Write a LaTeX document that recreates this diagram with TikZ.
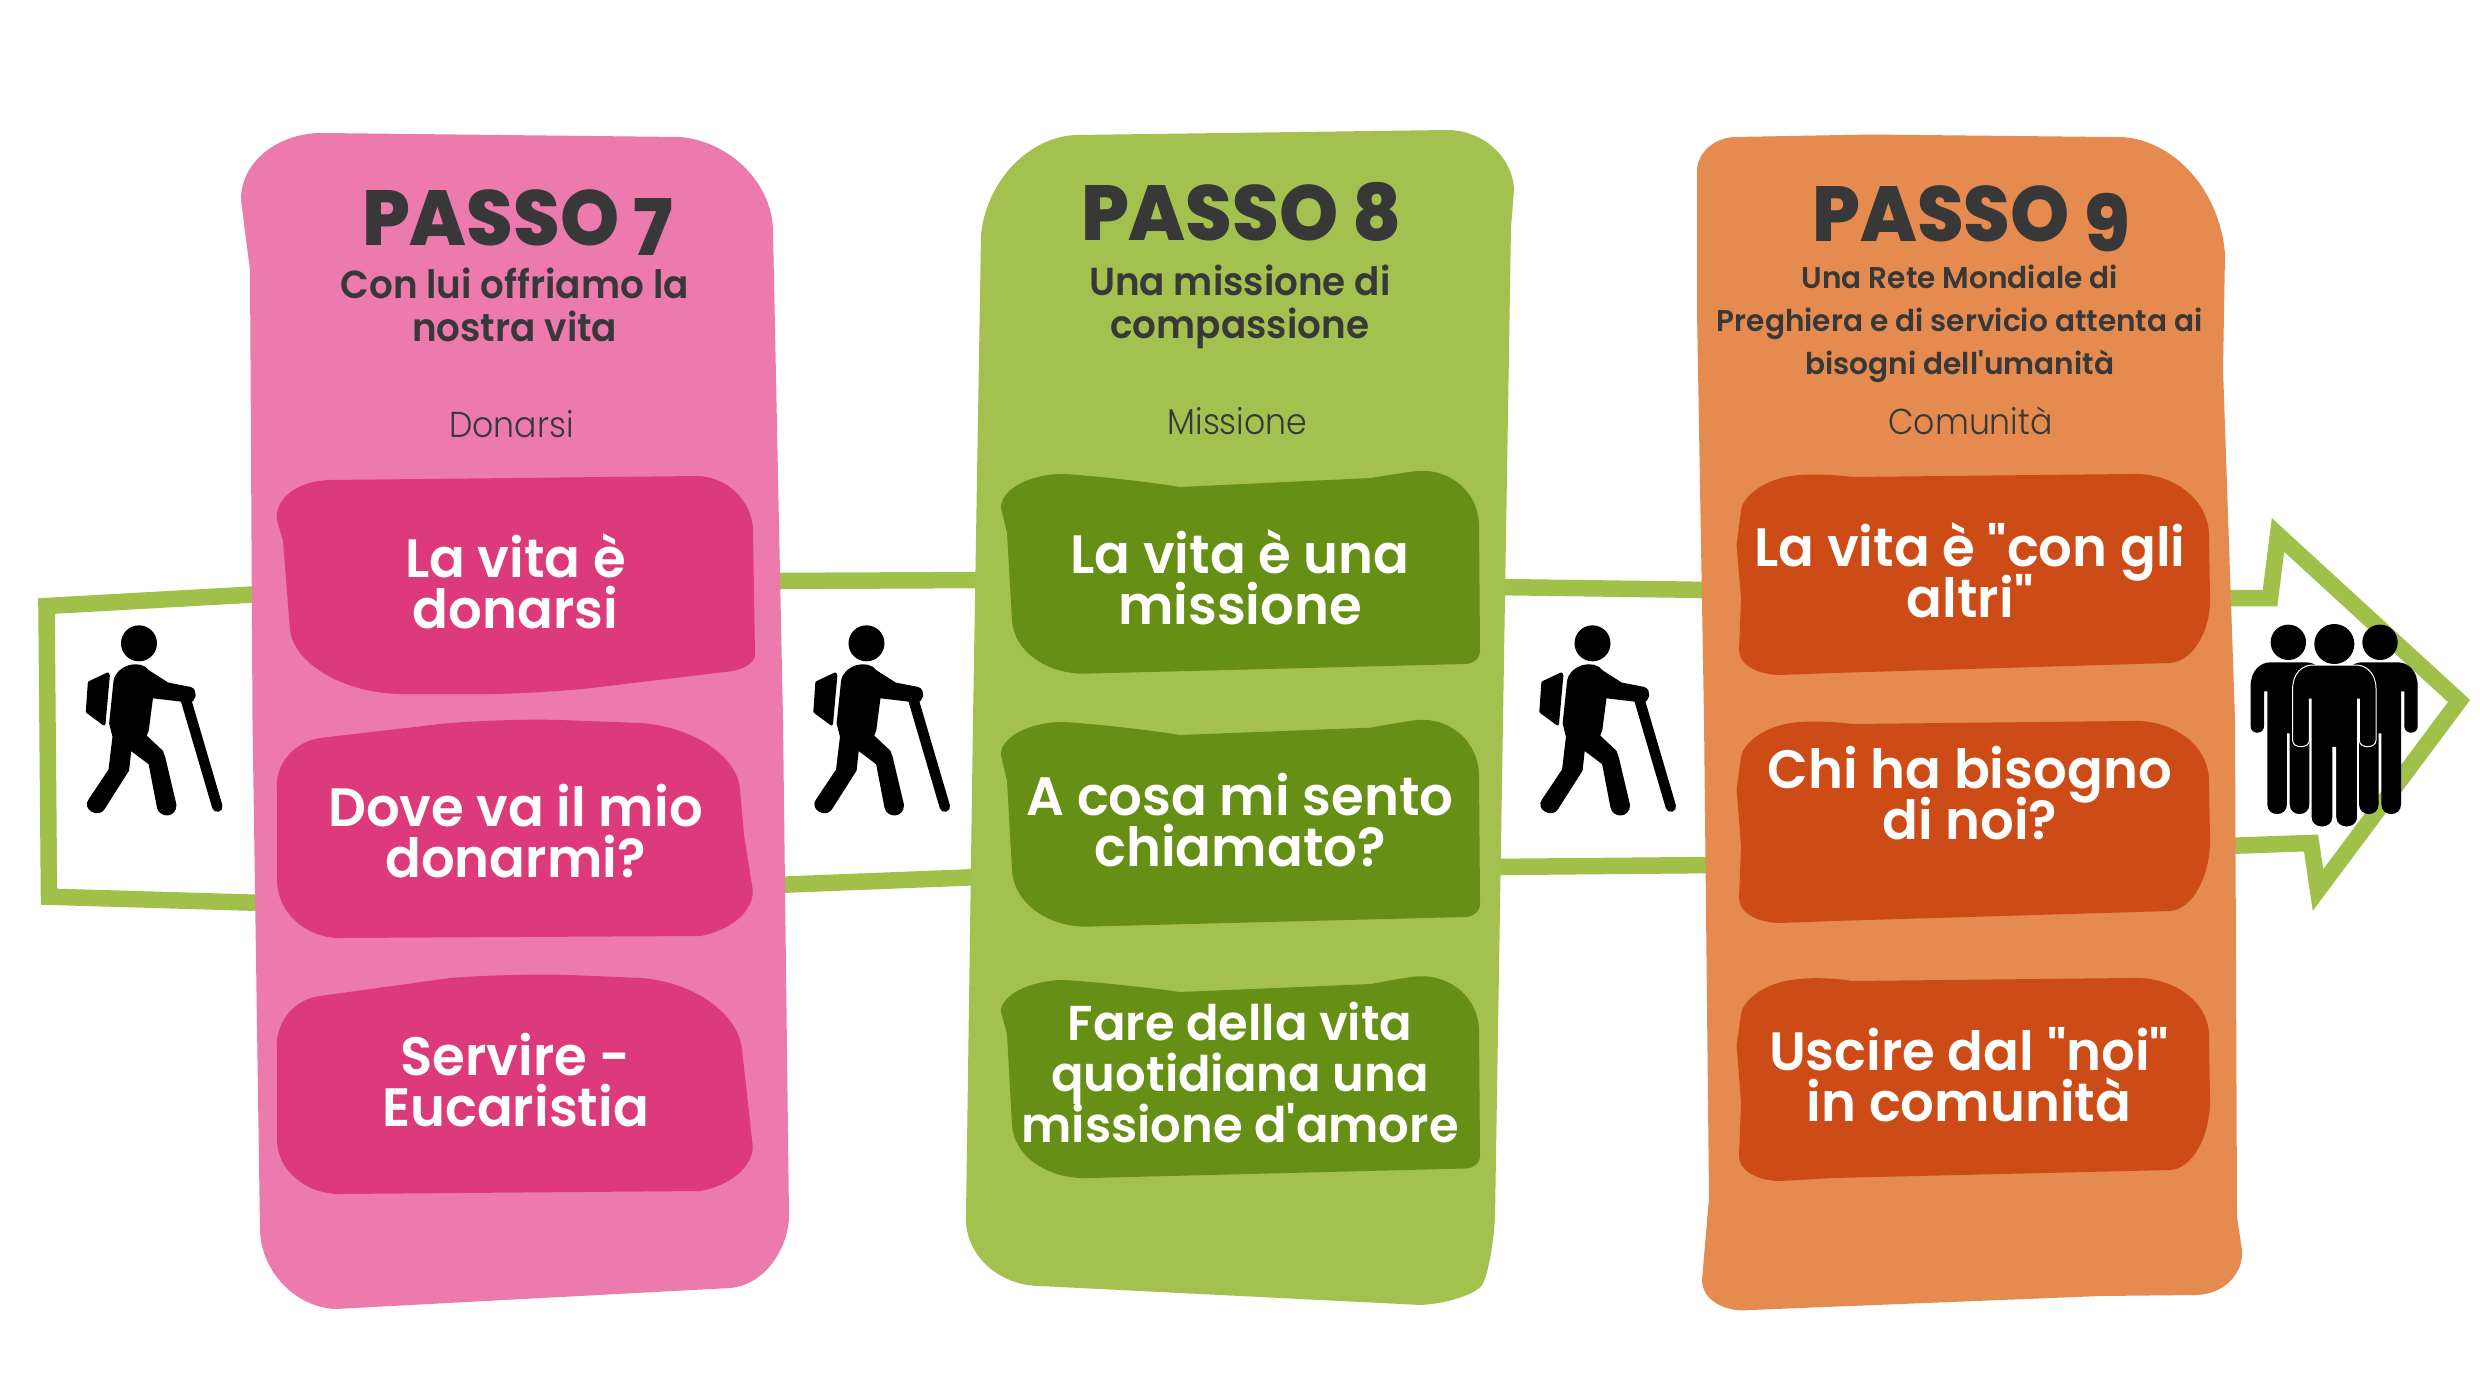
\documentclass[tikz,border=0pt]{standalone}
\usepackage{fontspec}
\usetikzlibrary{calc}
\newfontfamily\titlefont{Poppins ExtraBold}[FakeStretch=0.965]
\newfontfamily\subfont{Poppins SemiBold}[FakeStretch=0.957]
\newfontfamily\subsmallfont{Poppins SemiBold}[FakeStretch=0.986]
\newfontfamily\boxfont{Poppins SemiBold}[FakeStretch=0.98]
\newfontfamily\lightfont{Poppins Light}[FakeStretch=0.92]
\definecolor{pinkpanel}{HTML}{EC7AAD}
\definecolor{pinkbox}{HTML}{DC3A7A}
\definecolor{greenpanel}{HTML}{A4C14F}
\definecolor{greenbox}{HTML}{668F15}
\definecolor{orangepanel}{HTML}{E68B50}
\definecolor{orangebox}{HTML}{CC4B16}
\definecolor{arrowgreen}{HTML}{A0C04A}
\definecolor{darktext}{HTML}{383838}
\newcommand{\tightlines}{\lineskiplimit=-200pt\relax}
\newcommand{\subtextset}{\subfont\fontsize{39}{43}\selectfont\tightlines}
\newcommand{\subsmallset}{\subsmallfont\fontsize{30}{43}\selectfont\tightlines}
\newcommand{\boxset}{\boxfont\fontsize{54}{51}\selectfont\tightlines}
\newcommand{\boxsmallset}{\boxfont\fontsize{49}{51}\selectfont\tightlines}
\tikzset{
  x=1pt,y=-1pt,
  trail/.style={draw=arrowgreen,line width=16.5pt,miter limit=10},
  titletext/.style={font=\titlefont\fontsize{78}{80}\selectfont,text=darktext,inner sep=0,anchor=base},
  subtext/.style={font=\subtextset,text=darktext,align=center,inner sep=0,anchor=base},
  subsmall/.style={font=\subsmallset,text=darktext,align=center,inner sep=0,anchor=base},
  themetext/.style={font=\lightfont\fontsize{36}{38}\selectfont,text=darktext,inner sep=0,anchor=base},
  boxtext/.style={font=\boxset,text=white,align=center,inner sep=0,anchor=base},
  boxtextsmall/.style={boxtext,font=\boxsmallset},
}
% rounded corner: from #1 towards virtual corner #2 and on to #3
\newcommand{\cn}[3]{-- #1 .. controls ($#1!.55!#2$) and ($#3!.55!#2$) .. #3 }
\newcommand{\hiker}[2]{%
\begin{scope}[shift={(#1,#2)},x=0.3333pt,y=-0.3333pt]
 \fill (417,430) circle (54);
 \filldraw[line width=3pt,line join=round] (268,548)--(323,522)--(325,528)--(312,672)--(262,635)--cycle;
 \filldraw[line width=3pt,line join=round] (332,670)--(345,545) .. controls (350,500) and (420,480) .. (445,515)
   --(503,552)--(570,565) .. controls (590,570) and (585,605) .. (565,603)
   --(455,590)--(442,690)--(435,708)--(485,755)--(492,775)--(525,915)
   .. controls (525,950) and (480,950) .. (475,920)
   --(450,790)--(390,745)--(383,810)--(310,925)
   .. controls (295,950) and (250,925) .. (270,900)
   --(330,810)--(342,710)--cycle;
 \draw[line width=10.5pt,line cap=round] (558,600)--(652,920);
\end{scope}}
% axis, top, half width, arm inner, leg half, gap start, arm bottom, total height, options
\newcommand{\persona}[9]{%
\begin{scope}[shift={(#1,#2)}]
 \filldraw[#9] (-#3,24) .. controls (-#3,8) and (-#3+10,0) .. (-#3+20,0) -- (#3-20,0)
   .. controls (#3-10,0) and (#3,8) .. (#3,24)
   -- (#3,#7-7) .. controls (#3,#7+1.5) and (#4,#7+1.5) .. (#4,#7-7)
   -- (#4,#6) -- (#5,#6) -- (#5,#8-10) .. controls (#5,#8+3) and (1.4,#8+3) .. (1.4,#8-10)
   -- (1.4,#7) -- (-1.4,#7) -- (-1.4,#8-10) .. controls (-1.4,#8+3) and (-#5,#8+3) .. (-#5,#8-10)
   -- (-#5,#6) -- (-#4,#6) -- (-#4,#7-7) .. controls (-#4,#7+1.5) and (-#3,#7+1.5) .. (-#3,#7-7) -- cycle;
\end{scope}}
\begin{document}
\begin{tikzpicture}
\useasboundingbox (0,0) rectangle (2480,1373);
\fill[white] (0,0) rectangle (2480,1373);
% trail
\draw[trail] (262,594)--(46.5,606)--(49,896.7)--(265,903);
\draw[trail] (770,581)--(985,580);
\draw[trail] (775,885)--(980,877);
\draw[trail] (1495,587)--(1712,590);
\draw[trail] (1490,867)--(1715,865);
\draw[trail] (2220,598)--(2270,598)--(2278,535)--(2459,701)--(2318,890)--(2311,843)--(2225,846);
% panels
\fill[pinkpanel] (323,133) -- (680,137) \cn{(680,137)}{(772,145)}{(773,231)} -- (783,720) -- (789,1217)
  \cn{(789,1217)}{(786,1284)}{(730,1288)} -- (335,1309) \cn{(335,1309)}{(262,1305)}{(260,1230)}
  -- (252.5,720) -- (250,270) -- (241,200) \cn{(241,200)}{(240,132)}{(323,133)} -- cycle;
\fill[greenpanel] (1076,135) -- (1447,130) \cn{(1447,130)}{(1512,130)}{(1514,190)} -- (1511,227) -- (1503,720) -- (1495,1217)
  \cn{(1495,1217)}{(1492,1270)}{(1482,1285)} \cn{(1482,1285)}{(1470,1302)}{(1421,1305)} -- (1040,1286)
  \cn{(1040,1286)}{(962,1285)}{(966,1215)} -- (973,720) -- (981,235) \cn{(981,235)}{(990,138)}{(1076,135)} -- cycle;
\fill[orangepanel] (1697,170) \cn{(1697,170)}{(1698,138)}{(1735,137)} -- (1871,134.5) -- (2110,137)
  \cn{(2110,137)}{(2215,130)}{(2225,254)} -- (2223,369) -- (2235,720) -- (2237,1217) -- (2242,1250)
  \cn{(2242,1250)}{(2245,1295)}{(2195,1295)} -- (2101,1296) -- (1750,1310) \cn{(1750,1310)}{(1702,1315)}{(1702,1280)}
  -- (1709,1198) -- (1704,720) -- (1697,311) -- cycle;
% pink boxes
\fill[pinkbox] (330,480) -- (698,476) \cn{(698,476)}{(752,478)}{(753,530)} -- (755,655) \cn{(755,655)}{(755,667)}{(733,671)}
  -- (600,687) \cn{(600,687)}{(526,696)}{(460,694)} -- (400,694) \cn{(400,694)}{(298,692)}{(290,630)} -- (283,541) -- (277,520)
  \cn{(277,520)}{(272,481)}{(330,480)} -- cycle;
\fill[pinkbox] (277,790) \cn{(277,790)}{(272,745)}{(320,738)} -- (440,724) \cn{(440,724)}{(500,718)}{(560,720)} -- (641,723)
  \cn{(641,723)}{(737,730)}{(740,790)} -- (744,835) -- (752,885) \cn{(752,885)}{(762,925)}{(700,936)} -- (340,938)
  \cn{(340,938)}{(277,938)}{(277,880)} -- cycle;
\fill[pinkbox] (277,1050) \cn{(277,1050)}{(272,1002)}{(320,996)} -- (450,978) \cn{(450,978)}{(510,973)}{(570,975)} -- (641,978)
  \cn{(641,978)}{(737,985)}{(742,1050)} -- (748,1103) -- (752,1140) \cn{(752,1140)}{(762,1180)}{(700,1191)} -- (340,1194)
  \cn{(340,1194)}{(277,1194)}{(277,1140)} -- cycle;
% green boxes
\fill[greenbox] (1007,533) -- (1001,508) \cn{(1001,508)}{(1000,476)}{(1060,474)} \cn{(1065,474)}{(1125,478)}{(1180,487)} -- (1371,478)
  \cn{(1371,478)}{(1400,473)}{(1417,471)} \cn{(1417,471)}{(1478,466)}{(1479,525)} -- (1480,650)
  \cn{(1480,650)}{(1481,664)}{(1465,664)} -- (1090,673.5) \cn{(1090,673.5)}{(1015,678)}{(1012,620)} -- cycle;
\fill[greenbox] (1007,781) -- (1001,755) \cn{(1001,755)}{(1000,724)}{(1060,722)} \cn{(1065,722)}{(1125,726)}{(1180,735)} -- (1371,727.6)
  \cn{(1371,727.6)}{(1400,722)}{(1417,720)} \cn{(1417,720)}{(1478,715)}{(1479,775)} -- (1480,903)
  \cn{(1480,903)}{(1481,917)}{(1465,917)} -- (1090,926.5) \cn{(1090,926.5)}{(1015,930)}{(1012,870)} -- cycle;
\fill[greenbox] (1007,1034) -- (1001,1012) \cn{(1001,1012)}{(1000,983)}{(1060,980)} \cn{(1065,980)}{(1125,984)}{(1180,992)} -- (1371,984)
  \cn{(1371,984)}{(1400,978)}{(1417,976.4)} \cn{(1417,976.4)}{(1478,972)}{(1479,1030)} -- (1480,1155)
  \cn{(1480,1155)}{(1481,1168.5)}{(1465,1168.5)} -- (1090,1178) \cn{(1090,1178)}{(1015,1182)}{(1012,1125)} -- cycle;
% orange boxes
\fill[orangebox] (1736.6,545) -- (1741,510) \cn{(1741,510)}{(1747,478)}{(1800,475)} \cn{(1800,475)}{(1825,473)}{(1852,477)} -- (2130,474)
  \cn{(2130,474)}{(2208,470)}{(2209,535)} -- (2210,600) \cn{(2210,600)}{(2210,660)}{(2170,663)} -- (1833,673) -- (1780,675)
  \cn{(1780,675)}{(1738,675)}{(1739,650)} -- (1741,598) -- cycle;
\fill[orangebox] (1736.6,789) -- (1741,757) \cn{(1741,757)}{(1747,725)}{(1800,722)} \cn{(1800,722)}{(1825,720)}{(1852,724)} -- (2130,721)
  \cn{(2130,721)}{(2208,717)}{(2209,780)} -- (2210,840) \cn{(2210,840)}{(2210,908)}{(2170,911)} -- (1833,921) -- (1780,923)
  \cn{(1780,923)}{(1738,923)}{(1739,898)} -- (1741,846) -- cycle;
\fill[orangebox] (1736.6,1045) -- (1741,1014) \cn{(1741,1014)}{(1747,982)}{(1800,979)} \cn{(1800,979)}{(1825,976)}{(1852,981)} -- (2130,978)
  \cn{(2130,978)}{(2208,974)}{(2209,1035)} -- (2210,1100) \cn{(2210,1100)}{(2210,1168)}{(2170,1170)} -- (1833,1178) -- (1780,1181)
  \cn{(1780,1181)}{(1738,1181)}{(1739,1156)} -- (1741,1102.7) -- cycle;
% hikers
\hiker{0}{500}
\hiker{727.5}{500}
\hiker{1453.5}{500}
% group
\persona{2288.3}{662.3}{37.7}{24.3}{21}{29}{71}{152}{fill=black,draw=none}
\persona{2380}{662.3}{37.7}{24.3}{21}{29}{71}{152}{fill=black,draw=none}
\fill (2288.3,642.3) circle (17.7);
\fill (2380,642.3) circle (17.7);
\persona{2334.3}{665}{41.7}{25}{23.3}{34}{82.3}{162.3}{fill=black,draw=white,line width=1pt}
\fill (2334.3,644) circle (20);
% text: panel 7
\node[titletext] (t7) at (517.6,245.5) {PASSO \smash{\raisebox{-10pt}{7}}};
\node[subtext] (s7) at (514.7,341) {Con lui offriamo la\\nostra vita};
\node[themetext] (d7) at (511.4,437) {Donarsi};
\node[boxtext] (b71) at (515.5,628) {La vita è\\donarsi};
\node[boxtext] (b72) at (515.5,877) {Dove va il mio\\donarmi?};
\node[boxtext] (b73) at (515.5,1126) {Servire -\\Eucaristia};
% text: panel 8
\node[titletext] (t8) at (1241.4,240.5) {PASSO 8};
\node[subtext] (s8) at (1239.8,338) {Una missione di\\compassione};
\node[themetext] (d8) at (1237.4,434.6) {Missione};
\node[boxtext] (b81) at (1240,624) {La vita è una\\missione};
\node[boxtext] (b82) at (1240,866.6) {A cosa mi sento\\chiamato?};
\node[boxtextsmall] (b83) at (1240,1142.5) {Fare della vita\\quotidiana una\\missione d'amore};
% text: panel 9
\node[titletext] (t9) at (1971,241) {PASSO \smash{\raisebox{-10pt}{9}}};
\node[subsmall] (s9) at (1959.8,374.5) {Una Rete Mondiale di\\Preghiera e di servicio attenta ai\\bisogni dell'umanità};
\node[themetext] (d9) at (1970.5,434) {Comunità};
\node[boxtext] (b91) at (1970,617) {La vita è "con gli\\altri"};
\node[boxtext] (b92) at (1969.7,839.4) {Chi ha bisogno\\di noi?};
\node[boxtext] (b93) at (1969,1121) {Uscire dal "noi"\\in comunità};
\end{tikzpicture}
\end{document}
